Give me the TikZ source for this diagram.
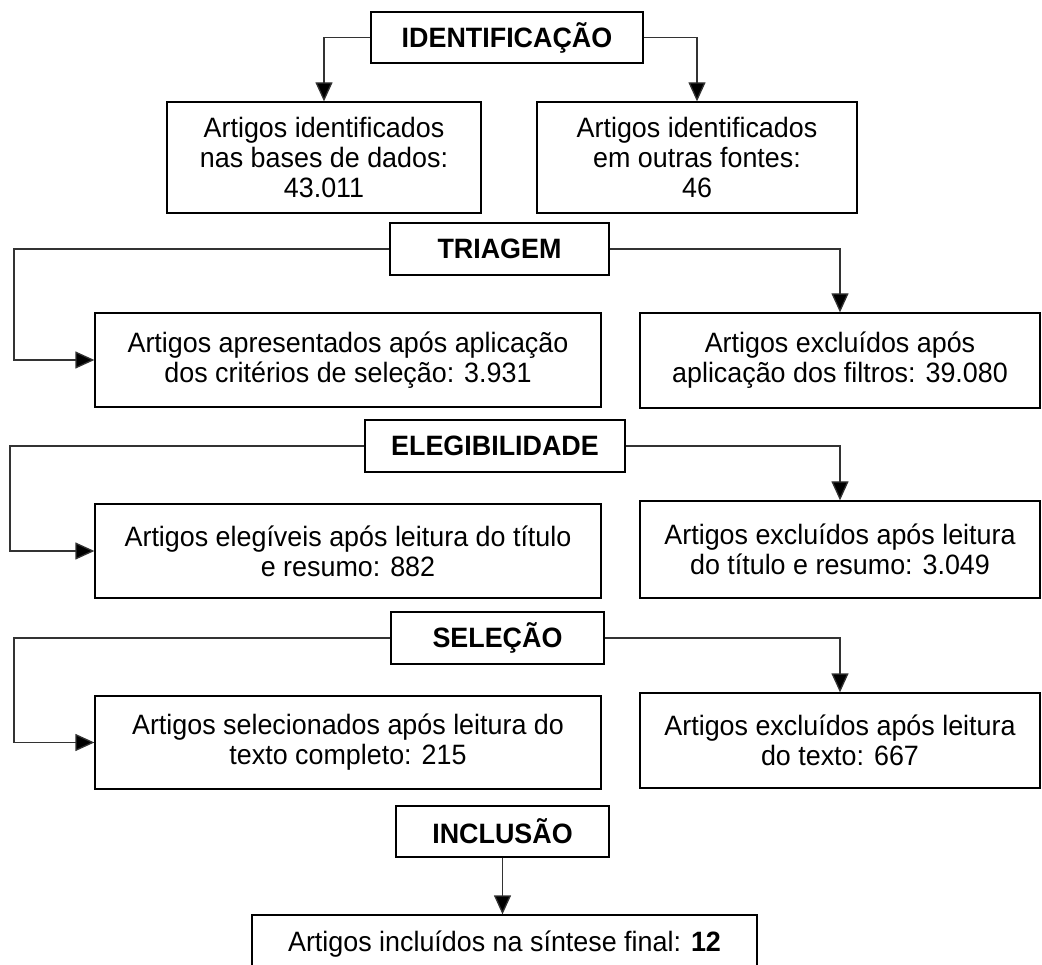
\documentclass[tikz,border=0pt]{standalone}
\usepackage{fontspec}
\setmainfont[FakeStretch=0.96]{Liberation Sans}
\usetikzlibrary{arrows.meta}

\tikzset{
  box/.style={draw=black, line width=1.3pt, fill=white, align=center,
              inner sep=0pt, font=\fontsize{28}{30}\selectfont},
  stage/.style={box, font=\fontsize{28}{30}\selectfont\bfseries},
  link/.style={draw=black!80, line width=1.3pt,
               -{Triangle[length=19pt,width=17pt,fill=black]}},
}

\begin{document}
\begin{tikzpicture}[x=1pt, y=-1pt]
  \path[use as bounding box] (0,0) rectangle (1042,965);

  % phase headers
  \node[stage, minimum width=272, minimum height=51] (iden) at (507,37.5) {IDENTIFICAÇÃO};
  \node[stage, minimum width=219, minimum height=52] (tria) at (499.5,249) {TRIAGEM};
  \node[stage, minimum width=260, minimum height=52] (eleg) at (495,446) {ELEGIBILIDADE};
  \node[stage, minimum width=213, minimum height=52] (sele) at (497.5,638) {SELEÇÃO};
  \node[stage, minimum width=213, minimum height=51] (incl) at (502.5,831.5) {INCLUSÃO};

  % identification
  \node[box, minimum width=314, minimum height=111] (bases) at (324,157.5)
    {Artigos identificados\\nas bases de dados:\\43.011};
  \node[box, minimum width=320, minimum height=111] (outras) at (697,157.5)
    {Artigos identificados\\em outras fontes:\\46};

  % screening
  \node[box, minimum width=506, minimum height=94] (apres) at (348,360)
    {Artigos apresentados após aplicação\\dos critérios de seleção: 3.931};
  \node[box, minimum width=400, minimum height=95] (excl1) at (840,360.5)
    {Artigos excluídos após\\aplicação dos filtros: 39.080};

  % eligibility
  \node[box, minimum width=506, minimum height=94] (eleg2) at (348,551)
    {Artigos elegíveis após leitura do título\\e resumo: 882};
  \node[box, minimum width=400, minimum height=97] (excl2) at (840,549.5)
    {Artigos excluídos após leitura\\do título e resumo: 3.049};

  % selection
  \node[box, minimum width=506, minimum height=93] (selec) at (348,742.5)
    {Artigos selecionados após leitura do\\texto completo: 215};
  \node[box, minimum width=400, minimum height=95] (excl3) at (840,740.5)
    {Artigos excluídos após leitura\\do texto: 667};

  % inclusion
  \node[box, minimum width=505, minimum height=60] (final) at (504.5,945)
    {\raisebox{8pt}{Artigos incluídos na síntese final: \textbf{12}}};

  % left return rails
  \coordinate (railA) at (14,251);
  \coordinate (railB) at (10,446);
  \coordinate (railC) at (14,637);

  % connectors
  \draw[link] (iden.west) -| (bases.north);
  \draw[link] (iden.east) -| (outras.north);

  \draw[link] (tria.west) -- (tria.west -| railA) |- (apres.west);
  \draw[link] (tria.east) -| (excl1.north);

  \draw[link] (eleg.west) -- (eleg.west -| railB) |- (eleg2.west);
  \draw[link] (eleg.east) -| (excl2.north);

  \draw[link] (sele.west) -- (sele.west -| railC) |- (selec.west);
  \draw[link] (sele.east) -| (excl3.north);

  \draw[link] (incl.south) -- (incl.south |- final.north);
\end{tikzpicture}
\end{document}
